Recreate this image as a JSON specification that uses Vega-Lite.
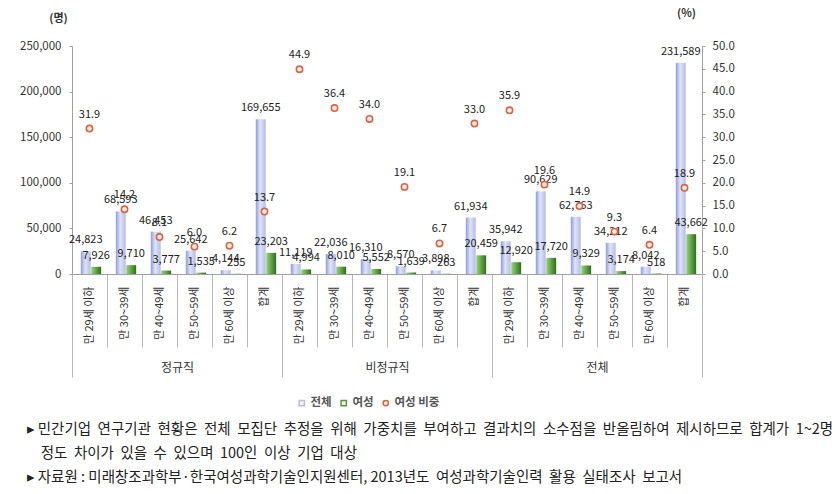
{
  "$schema": "https://vega.github.io/schema/vega-lite/v6.json",
  "width": 630,
  "height": 228,
  "autosize": {"type": "none"},
  "padding": {"left": 72, "top": 46, "right": 134, "bottom": 220},
  "background": "white",
  "config": {
    "view": {"stroke": null},
    "font": "Noto Sans CJK KR",
    "axis": {"labelFont": "Noto Sans CJK KR", "titleFont": "Noto Sans CJK KR"}
  },
  "title": {
    "text": [
      "▸\u00a0민간기업\u00a0\u00a0연구기관\u00a0\u00a0현황은\u00a0\u00a0전체\u00a0\u00a0모집단\u00a0\u00a0추정을\u00a0\u00a0위해\u00a0\u00a0가중치를\u00a0\u00a0부여하고\u00a0\u00a0결과치의\u00a0\u00a0소수점을\u00a0\u00a0반올림하여\u00a0\u00a0제시하므로\u00a0\u00a0합계가\u00a0\u00a01~2명",
      "\u2800\u00a0정도\u00a0\u00a0차이가\u00a0\u00a0있을\u00a0\u00a0수\u00a0\u00a0있으며\u00a0\u00a0100인\u00a0\u00a0이상\u00a0\u00a0기업\u00a0\u00a0대상",
      "▸\u00a0자료원\u00a0:\u00a0미래창조과학부·한국여성과학기술인지원센터,\u00a02013년도\u00a0\u00a0여성과학기술인력\u00a0\u00a0활용\u00a0\u00a0실태조사\u00a0\u00a0보고서"
    ],
    "orient": "bottom",
    "anchor": "start",
    "frame": "bounds",
    "font": "Noto Sans CJK KR",
    "fontSize": 14.5,
    "fontWeight": "normal",
    "color": "#222222",
    "lineHeight": 24,
    "offset": 14,
    "dx": 7
  },
  "data": {
    "values": [
      {"k": "정규직|만 29세 이하", "g": "정규직", "total": 24823, "female": 7926, "ratio": 31.9},
      {"k": "정규직|만 30~39세", "g": "정규직", "total": 68593, "female": 9710, "ratio": 14.2},
      {"k": "정규직|만 40~49세", "g": "정규직", "total": 46453, "female": 3777, "ratio": 8.1},
      {"k": "정규직|만 50~59세", "g": "정규직", "total": 25642, "female": 1535, "ratio": 6.0},
      {"k": "정규직|만 60세 이상", "g": "정규직", "total": 4144, "female": 255, "ratio": 6.2},
      {"k": "정규직|합계", "g": "정규직", "total": 169655, "female": 23203, "ratio": 13.7},
      {"k": "비정규직|만 29세 이하", "g": "비정규직", "total": 11119, "female": 4994, "ratio": 44.9},
      {"k": "비정규직|만 30~39세", "g": "비정규직", "total": 22036, "female": 8010, "ratio": 36.4},
      {"k": "비정규직|만 40~49세", "g": "비정규직", "total": 16310, "female": 5552, "ratio": 34.0},
      {"k": "비정규직|만 50~59세", "g": "비정규직", "total": 8570, "female": 1639, "ratio": 19.1},
      {"k": "비정규직|만 60세 이상", "g": "비정규직", "total": 3898, "female": 263, "ratio": 6.7},
      {"k": "비정규직|합계", "g": "비정규직", "total": 61934, "female": 20459, "ratio": 33.0},
      {"k": "전체|만 29세 이하", "g": "전체", "total": 35942, "female": 12920, "ratio": 35.9},
      {"k": "전체|만 30~39세", "g": "전체", "total": 90629, "female": 17720, "ratio": 19.6},
      {"k": "전체|만 40~49세", "g": "전체", "total": 62763, "female": 9329, "ratio": 14.9},
      {"k": "전체|만 50~59세", "g": "전체", "total": 34212, "female": 3174, "ratio": 9.3},
      {"k": "전체|만 60세 이상", "g": "전체", "total": 8042, "female": 518, "ratio": 6.4},
      {"k": "전체|합계", "g": "전체", "total": 231589, "female": 43662, "ratio": 18.9}
    ]
  },
  "layer": [
    {
      "encoding": {
        "x": {
          "field": "k",
          "type": "nominal",
          "sort": null,
          "scale": {
            "domain": ["정규직|만 29세 이하", "정규직|만 30~39세", "정규직|만 40~49세", "정규직|만 50~59세", "정규직|만 60세 이상", "정규직|합계",
                       "비정규직|만 29세 이하", "비정규직|만 30~39세", "비정규직|만 40~49세", "비정규직|만 50~59세", "비정규직|만 60세 이상", "비정규직|합계",
                       "전체|만 29세 이하", "전체|만 30~39세", "전체|만 40~49세", "전체|만 50~59세", "전체|만 60세 이상", "전체|합계"],
            "paddingInner": 0,
            "paddingOuter": 0
          },
          "axis": {
            "title": null,
            "labelExpr": "split(datum.value, '|')[1]",
            "labelAngle": -90,
            "labelFontSize": 11,
            "labelColor": "#333333",
            "labelOverlap": false,
            "labelBound": false,
            "tickBand": "extent",
            "tickSize": 73,
            "tickColor": "#b8b8b8",
            "domainColor": "#a0a0a0",
            "labelPadding": -61
          }
        }
      },
      "layer": [
        {
          "transform": [{"fold": ["total", "female"], "as": ["s", "v"]}],
          "encoding": {
            "y": {
              "field": "v",
              "type": "quantitative",
              "scale": {"domain": [0, 250000], "nice": false},
              "axis": {
                "title": "(명)",
                "titleAngle": 0,
                "titleX": -14,
                "titleY": -28,
                "titleAlign": "center",
                "titleBaseline": "middle",
                "titleFontSize": 11,
                "titleFontWeight": "bold",
                "titleColor": "#333333",
                "format": ",.0f",
                "values": [0, 50000, 100000, 150000, 200000, 250000],
                "grid": false,
                "tickSize": 3,
                "labelPadding": 8,
                "labelFontSize": 11.5,
                "labelColor": "#333333",
                "domainColor": "#a0a0a0",
                "tickColor": "#a0a0a0"
              }
            },
            "xOffset": {
              "field": "s",
              "type": "nominal",
              "scale": {"domain": ["total", "female"], "paddingInner": 0.05, "paddingOuter": 0.7, "align": 0.6}
            }
          },
          "layer": [
            {
              "transform": [{"filter": "datum.s === 'total'"}],
              "mark": {
                "type": "bar",
                "color": {
                  "gradient": "linear", "x1": 0, "x2": 1, "y1": 0, "y2": 0,
                  "stops": [
                    {"offset": 0, "color": "#8e9bdc"},
                    {"offset": 0.45, "color": "#dfe4f8"},
                    {"offset": 1, "color": "#b3bcea"}
                  ]
                }
              }
            },
            {
              "transform": [{"filter": "datum.s === 'female'"}],
              "mark": {
                "type": "bar",
                "color": {
                  "gradient": "linear", "x1": 0, "x2": 1, "y1": 0, "y2": 0,
                  "stops": [
                    {"offset": 0, "color": "#9fd282"},
                    {"offset": 0.5, "color": "#5ea643"},
                    {"offset": 1, "color": "#2e6b21"}
                  ]
                }
              }
            },
            {
              "mark": {"type": "text", "baseline": "middle", "dy": -11, "fontSize": 11, "color": "#222222"},
              "encoding": {"text": {"field": "v", "type": "quantitative", "format": ",.0f"}}
            }
          ]
        },
        {
          "encoding": {
            "y": {
              "field": "ratio",
              "type": "quantitative",
              "scale": {"domain": [0, 50], "nice": false},
              "axis": {
                "orient": "right",
                "title": "(%)",
                "titleAngle": 0,
                "titleX": -16,
                "titleY": -33,
                "titleAlign": "center",
                "titleBaseline": "middle",
                "titleFontSize": 11,
                "titleFontWeight": "bold",
                "titleColor": "#333333",
                "format": ".1f",
                "values": [0, 5, 10, 15, 20, 25, 30, 35, 40, 45, 50],
                "grid": false,
                "tickSize": 3,
                "labelPadding": 7,
                "labelFontSize": 11.5,
                "labelColor": "#333333",
                "domainColor": "#a0a0a0",
                "tickColor": "#a0a0a0"
              }
            }
          },
          "layer": [
            {
              "mark": {"type": "point", "filled": false, "size": 40, "strokeWidth": 1.6, "fill": "#fff0ec", "fillOpacity": 1, "opacity": 1},
              "encoding": {
                "color": {
                  "datum": "여성 비중",
                  "type": "nominal",
                  "scale": {"domain": ["전체", "여성", "여성 비중"], "range": ["#b3bdec", "#4e9a38", "#e0603c"]},
                  "legend": {
                    "orient": "none",
                    "legendX": 224,
                    "legendY": 351,
                    "direction": "horizontal",
                    "title": null,
                    "labelFontSize": 11.5,
                    "labelFontWeight": "bold",
                    "labelColor": "#555555",
                    "symbolSize": 28,
                    "columnPadding": 6,
                    "labelOffset": 3,
                    "encode": {
                      "symbols": {
                        "update": {
                          "fill": {"signal": "datum.value === '전체' ? '#aab5ea' : datum.value === '여성' ? '#4e9a38' : '#ffffff'"},
                          "fillOpacity": {"value": 1},
                          "opacity": {"value": 1},
                          "stroke": {"signal": "datum.value === '전체' ? '#aab5ea' : datum.value === '여성' ? '#4e9a38' : '#e0603c'"},
                          "strokeWidth": {"value": 1.5}
                        }
                      }
                    }
                  }
                },
                "shape": {
                  "datum": "여성 비중",
                  "type": "nominal",
                  "scale": {"domain": ["전체", "여성", "여성 비중"], "range": ["square", "square", "circle"]},
                  "legend": {
                    "orient": "none",
                    "legendX": 224,
                    "legendY": 351,
                    "direction": "horizontal",
                    "title": null
                  }
                }
              }
            },
            {
              "mark": {"type": "text", "baseline": "middle", "dy": -14, "fontSize": 11, "color": "#222222"},
              "encoding": {"text": {"field": "ratio", "type": "quantitative", "format": ".1f"}}
            }
          ]
        }
      ],
      "resolve": {"scale": {"y": "independent"}}
    },
    {
      "mark": {"type": "point", "opacity": 0},
      "encoding": {
        "x": {
          "field": "g",
          "type": "nominal",
          "sort": null,
          "scale": {"domain": ["정규직", "비정규직", "전체"], "paddingInner": 0, "paddingOuter": 0},
          "axis": {
            "orient": "bottom",
            "title": null,
            "domain": false,
            "labelAngle": 0,
            "tickBand": "extent",
            "tickSize": 103,
            "tickColor": "#b8b8b8",
            "labelPadding": -15,
            "labelFontSize": 12,
            "labelColor": "#333333"
          }
        }
      }
    }
  ],
  "resolve": {"scale": {"x": "independent"}}
}
